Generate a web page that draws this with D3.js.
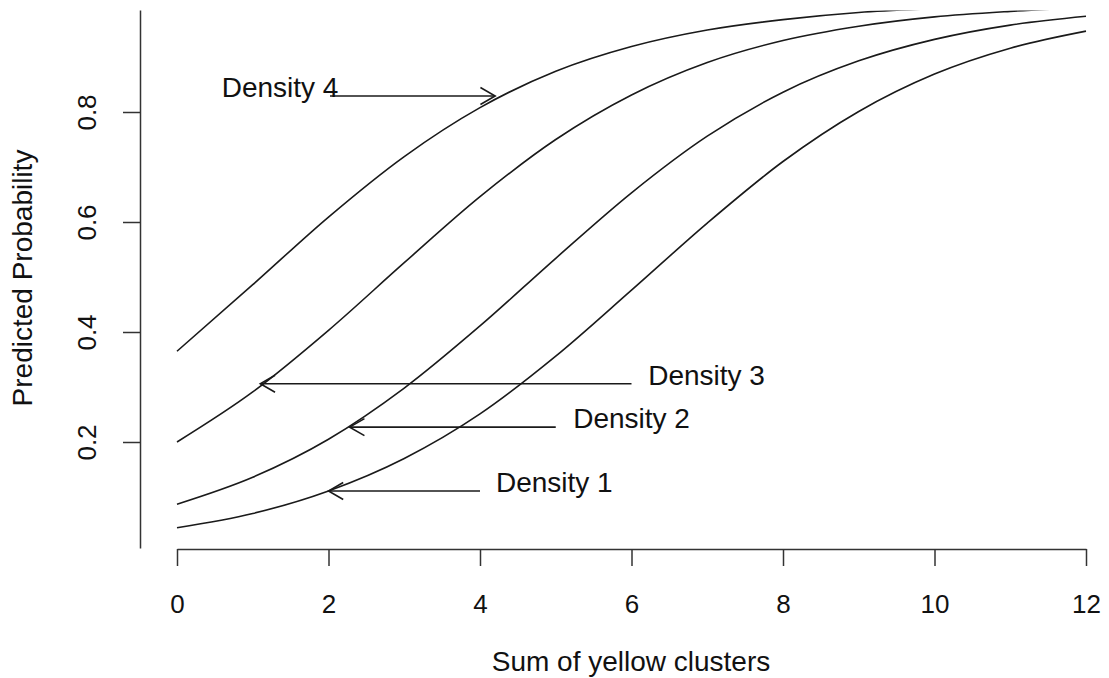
<!DOCTYPE html>
<html>
<head>
<meta charset="utf-8">
<script src="https://cdn.jsdelivr.net/npm/d3@7"></script>
<style>
  body { margin: 0; background: #fff; }
  text { font-family: "Liberation Sans", Arial, sans-serif; fill: #111; }
</style>
</head>
<body>
<div id="chart"></div>
<script>
// Data
const clusters = [0, 1, 2, 3, 4, 5, 6, 7, 8, 9, 10, 11, 12];
const density1 = [0.044, 0.070, 0.111, 0.170, 0.251, 0.356, 0.476, 0.598, 0.710, 0.801, 0.869, 0.916, 0.947];
const density2 = [0.087, 0.136, 0.205, 0.298, 0.411, 0.534, 0.653, 0.756, 0.836, 0.893, 0.932, 0.958, 0.974];
const density3 = [0.200, 0.291, 0.403, 0.526, 0.646, 0.750, 0.831, 0.890, 0.930, 0.956, 0.973, 0.983, 0.990];
const density4 = [0.365, 0.486, 0.609, 0.719, 0.808, 0.874, 0.919, 0.949, 0.968, 0.981, 0.988, 0.993, 0.996];

// annotation arrows (label text, arrow start, arrow tip, height, label position)
const labels = ["Density 1", "Density 2", "Density 3", "Density 4"];
const arrowFrom = [4.0, 5.0, 6.0, 2.02];
const arrowTo = [2.0, 2.28, 1.1, 4.2];
const arrowAt = [0.111, 0.227, 0.306, 0.829];
const labelAt = [4.21, 5.23, 6.22, 0.59];

const xTicks = [0, 2, 4, 6, 8, 10, 12];
const yTicks = [0.2, 0.4, 0.6, 0.8];

const width = 1109;
const height = 678;
const tickFont = 26;
const titleFont = 28;

const svg = d3.select("#chart")
    .append("svg")
    .attr("width", width)
    .attr("height", height);

const xScale = d3.scaleLinear().domain([0, 12]).range([177, 1086]);
const yScale = d3.scaleLinear().domain([0.00727, 0.98545]).range([548, 10]);

// x axis
const xAxis = svg.append("g")
    .attr("transform", "translate(0,549)")
    .call(d3.axisBottom(xScale).tickValues(xTicks).tickSize(17).tickSizeOuter(0).tickFormat(d3.format("d")));
xAxis.selectAll("path, line").attr("stroke", "#333").attr("stroke-width", 1.5);
xAxis.selectAll("text")
    .attr("dy", null)
    .attr("y", 64)
    .style("font-size", tickFont + "px")
    .style("font-family", "'Liberation Sans', Arial, sans-serif")
    .attr("fill", "#111");

// y axis
const yAxis = svg.append("g")
    .attr("transform", "translate(140,0)")
    .call(d3.axisLeft(yScale).tickValues(yTicks).tickSize(17).tickSizeOuter(0).tickFormat(d3.format(".1f")));
yAxis.selectAll("path, line").attr("stroke", "#333").attr("stroke-width", 1.5);
yAxis.selectAll("text")
    .attr("dy", null)
    .attr("x", 0)
    .attr("y", 0)
    .attr("text-anchor", "middle")
    .attr("transform", "translate(-44,0) rotate(-90)")
    .style("font-size", tickFont + "px")
    .style("font-family", "'Liberation Sans', Arial, sans-serif")
    .attr("fill", "#111");

// axis titles
svg.append("text")
    .attr("x", 631)
    .attr("y", 671)
    .attr("text-anchor", "middle")
    .style("font-size", titleFont + "px")
    .text("Sum of yellow clusters");

svg.append("text")
    .attr("transform", "translate(32,278) rotate(-90)")
    .attr("text-anchor", "middle")
    .style("font-size", titleFont + "px")
    .text("Predicted Probability");

// clip the curves at the plot region
svg.append("clipPath")
    .attr("id", "plot-clip")
    .append("rect")
    .attr("x", 140)
    .attr("y", 10.5)
    .attr("width", 1000)
    .attr("height", 540);

const line = d3.line()
    .x(d => xScale(d[0]))
    .y(d => yScale(d[1]))
    .curve(d3.curveMonotoneX);

const series = [density1, density2, density3, density4];

svg.append("g")
    .attr("clip-path", "url(#plot-clip)")
    .selectAll(".curve")
    .data(series)
    .join("path")
    .attr("class", "curve")
    .attr("fill", "none")
    .attr("stroke", "#1a1a1a")
    .attr("stroke-width", 1.6)
    .attr("d", s => line(clusters.map((c, i) => [c, s[i]])));

// arrows with labels
const headLen = 17;
const headAng = Math.PI / 6;

labels.forEach(function(label, i) {
    const x0 = xScale(arrowFrom[i]);
    const x1 = xScale(arrowTo[i]);
    const y = yScale(arrowAt[i]);
    const dir = x1 < x0 ? 1 : -1;
    const g = svg.append("g")
        .attr("fill", "none")
        .attr("stroke", "#1a1a1a")
        .attr("stroke-width", 1.6);
    g.append("line")
        .attr("x1", x0).attr("y1", y)
        .attr("x2", x1).attr("y2", y);
    g.append("path")
        .attr("d", `M${x1 + dir * headLen * Math.cos(headAng)},${y - headLen * Math.sin(headAng)}` +
                   `L${x1},${y}` +
                   `L${x1 + dir * headLen * Math.cos(headAng)},${y + headLen * Math.sin(headAng)}`);

    svg.append("text")
        .attr("x", xScale(labelAt[i]))
        .attr("y", y + 1)
        .style("font-size", titleFont + "px")
        .text(label);
});
</script>
</body>
</html>
